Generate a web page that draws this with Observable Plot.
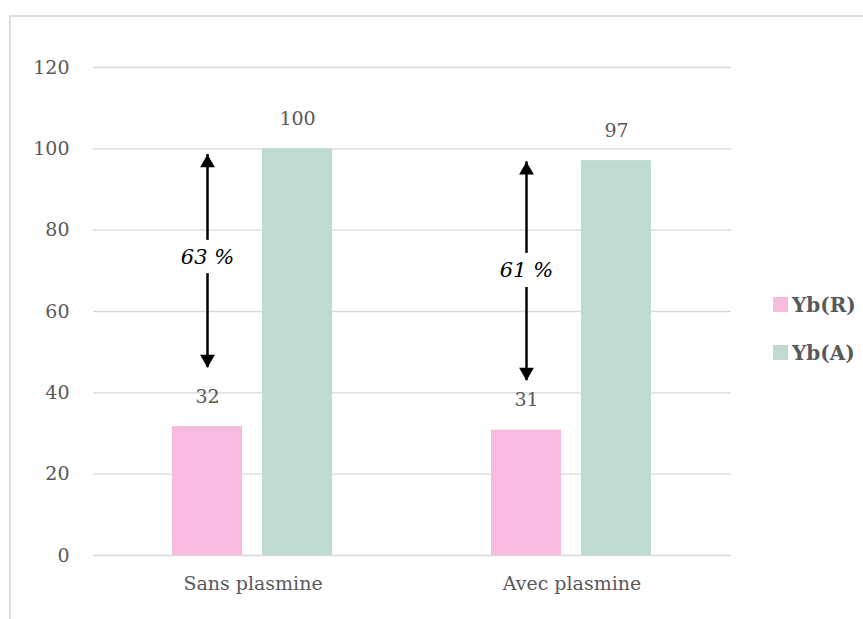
<!DOCTYPE html>
<html>
<head>
<meta charset="utf-8">
<script src="https://cdn.jsdelivr.net/npm/d3@7"></script>
<script src="https://cdn.jsdelivr.net/npm/@observablehq/plot@0.6"></script>
<style>
  html, body { margin: 0; padding: 0; background: #fff; overflow: hidden; width: 863px; height: 619px; }
  #frame { position: absolute; left: 9px; top: 15px; width: 1000px; height: 1000px; border: 2px solid #dedede; box-sizing: border-box; }
  #chart { position: absolute; left: 0; top: 0; }
  #chart svg, #chart svg text { font-family: "DejaVu Serif", serif !important; }
  #legend { position: absolute; left: 773px; top: 297px; font-family: "DejaVu Serif", serif; font-weight: bold; font-size: 20px; color: #595959; }
  .item { display: flex; align-items: center; height: 15px; margin-bottom: 33px; }
  .sw { width: 15px; height: 15px; margin-right: 4px; flex: none; }
</style>
</head>
<body>
<div id="frame"></div>
<div id="chart"></div>
<div id="legend"></div>
<script>
const categories = ["Sans plasmine", "Avec plasmine"];
const seriesNames = ["Yb(R)", "Yb(A)"];
const ybR = [31.7, 30.8];
const ybA = [100, 97.1];
const labelsR = ["32", "31"];
const labelsA = ["100", "97"];
const yTicks = [0, 20, 40, 60, 80, 100, 120];
const colors = ["#f7bbdf", "#bfdad1"];
// difference arrows (drawn over the Yb(R) bar of each group)
const arrowTop = [98.6, 96.8];
const arrowBottom = [46.2, 43.0];
const gapTop = [77.5, 74.3];
const gapBottom = [69.3, 65.9];
const pctLabels = ["63 %", "61 %"];
const pctY = [73.4, 70.1];

const bars = categories.flatMap((c, i) => [
  {cat: c, s: seriesNames[0], v: ybR[i], label: labelsR[i]},
  {cat: c, s: seriesNames[1], v: ybA[i], label: labelsA[i]}
]);
const segs = categories.flatMap((c, i) => [
  {cat: c, s: seriesNames[0], y1: gapTop[i], y2: arrowTop[i]},
  {cat: c, s: seriesNames[0], y1: arrowBottom[i], y2: gapBottom[i]}
]);
const tops = categories.map((c, i) => ({cat: c, s: seriesNames[0], v: arrowTop[i]}));
const bottoms = categories.map((c, i) => ({cat: c, s: seriesNames[0], v: arrowBottom[i]}));
const pcts = categories.map((c, i) => ({cat: c, s: seriesNames[0], v: pctY[i], t: pctLabels[i]}));

const chart = Plot.plot({
  width: 760,
  height: 619,
  marginLeft: 92,
  marginRight: 29,
  marginTop: 67,
  marginBottom: 64,
  style: {fontFamily: "DejaVu Serif, serif", fontSize: "19px", color: "#595959", background: "transparent"},
  y: {domain: [0, 120], ticks: yTicks},
  fx: {domain: categories, padding: 0, label: null, axis: null},
  x: {domain: seriesNames, paddingInner: 0.22, paddingOuter: 0.866, axis: null},
  color: {domain: seriesNames, range: colors},
  marks: [
    Plot.gridY(yTicks, {stroke: "#d9d9d9", strokeOpacity: 1, strokeWidth: 1.3}),
    Plot.barY(bars, {fx: "cat", x: "s", y: "v", fill: "s"}),
    Plot.text(bars, {fx: "cat", x: "s", y: "v", text: "label", dy: -30, fill: "#595959", fontSize: 19}),
    Plot.axisY(yTicks, {tickSize: 0, tickPadding: 24, label: null, fontSize: 19, fill: "#595959"}),
    Plot.axisFx({anchor: "bottom", tickSize: 0, tickPadding: 21, label: null, fontSize: 19, fill: "#595959"}),
    Plot.ruleX(segs, {fx: "cat", x: "s", y1: "y1", y2: "y2", stroke: "black", strokeWidth: 2.5}),
    Plot.dot(tops, {fx: "cat", x: "s", y: "v", symbol: "triangle", r: 5.5, fill: "black", stroke: null, dy: 8.5}),
    Plot.dot(bottoms, {fx: "cat", x: "s", y: "v", symbol: "triangle", r: 5.5, fill: "black", stroke: null, rotate: 180, dy: -8.5}),
    Plot.text(pcts, {fx: "cat", x: "s", y: "v", text: "t", fontStyle: "italic", fontSize: 21, fill: "black"})
  ]
});
document.getElementById("chart").appendChild(chart);

const legend = document.getElementById("legend");
seriesNames.forEach((name, i) => {
  const item = document.createElement("div");
  item.className = "item";
  const sw = document.createElement("span");
  sw.className = "sw";
  sw.style.background = colors[i];
  const tx = document.createElement("span");
  tx.textContent = name;
  item.appendChild(sw);
  item.appendChild(tx);
  legend.appendChild(item);
});
</script>
</body>
</html>
